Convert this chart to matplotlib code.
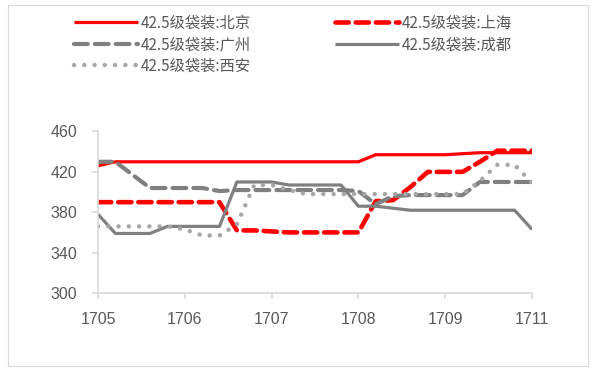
import matplotlib
matplotlib.use("Agg")
import matplotlib.pyplot as plt
from matplotlib.patches import Rectangle
import numpy as np

tick_labels = ["1705", "1706", "1707", "1708", "1709", "1711"]
series_names = ["42.5级袋装:北京", "42.5级袋装:上海", "42.5级袋装:广州",
                "42.5级袋装:成都", "42.5级袋装:西安"]
beijing = [426, 430, 430, 430, 430, 430, 430, 430, 430, 430, 430, 430, 430,
           430, 430, 430, 437, 437, 437, 437, 437, 438, 439, 439, 439, 439]
shanghai = [390, 390, 390, 390, 390, 390, 390, 390, 362, 362, 361, 360, 360,
            360, 360, 360, 391, 392, 405, 420, 420, 420, 430, 441, 441, 441]
guangzhou = [430, 430, 417, 404, 404, 404, 404, 401, 402, 402, 402, 402, 402,
             402, 402, 401, 388, 396, 397, 397, 397, 397, 410, 410, 410, 410]
chengdu = [378, 359, 359, 359, 366, 366, 366, 366, 410, 410, 410, 407, 407,
           407, 407, 386, 386, 384, 382, 382, 382, 382, 382, 382, 382, 363]
xian = [366, 366, 366, 366, 366, 363, 357, 357, 368, 407, 407, 402, 398,
        398, 398, 398, 398, 398, 398, 398, 398, 398, 411, 427, 427, 409]

x = np.arange(len(beijing))
tick_pos = np.linspace(0, len(beijing) - 1, len(tick_labels))

fig = plt.figure(figsize=(5.98, 3.69), dpi=100)
fig.patches.append(Rectangle((8 / 598, 1 - 366 / 369), 580 / 598, 361 / 369,
                             transform=fig.transFigure, fill=False,
                             edgecolor="#d9d9d9", linewidth=0.8))
ax = fig.add_axes([98 / 598, 1 - 293 / 369, 434 / 598, 161.5 / 369])

red = "#ff0000"
dgrey = "#808080"
lgrey = "#a6a6a6"

l_bj, = ax.plot(x, beijing, color=red, lw=2.3, solid_capstyle="butt")
l_sh, = ax.plot(x, shanghai, color=red, lw=3.3, linestyle=(0, (2.9, 1.5)),
                dash_capstyle="round")
l_gz, = ax.plot(x, guangzhou, color=dgrey, lw=3.0, linestyle=(0, (3.3, 1.7)),
                dash_capstyle="round")
l_cd, = ax.plot(x, chengdu, color=dgrey, lw=2.3, solid_capstyle="butt")
l_xa, = ax.plot(x, xian, color=lgrey, lw=3.2, linestyle=(0, (0.01, 2.3)),
                dash_capstyle="round")

ax.set_xlim(0, len(beijing) - 1)
ax.set_ylim(300, 460)
ax.set_yticks([300, 340, 380, 420, 460])
ax.set_xticks(tick_pos)
ax.set_xticklabels(tick_labels)

for s in ["top", "right"]:
    ax.spines[s].set_visible(False)
for s in ["left", "bottom"]:
    ax.spines[s].set_color("#d9d9d9")
    ax.spines[s].set_linewidth(1.2)

ax.tick_params(axis="x", colors="#d9d9d9", length=4, width=1.2, pad=10,
               labelcolor="#595959", labelsize=11.5)
ax.tick_params(axis="y", colors="#d9d9d9", length=4, width=1.2, pad=11,
               labelcolor="#595959", labelsize=11.5)
for lab in ax.get_xticklabels() + ax.get_yticklabels():
    lab.set_family(["Liberation Sans", "DejaVu Sans"])

handles = [l_bj, l_gz, l_xa, l_sh, l_cd]
labels = [series_names[0], series_names[2], series_names[4],
          series_names[1], series_names[3]]
leg = fig.legend(handles, labels, ncol=2, loc="upper left",
                 bbox_to_anchor=(66 / 598, 1 - 7 / 369),
                 frameon=False, handlelength=4.2, handletextpad=0.2,
                 columnspacing=5.5, labelspacing=0.3, borderpad=0,
                 prop={"family": ["Noto Sans CJK SC", "DejaVu Sans"], "size": 11})
for t in leg.get_texts():
    t.set_color("#595959")

fig.savefig("out.png", dpi=100)
